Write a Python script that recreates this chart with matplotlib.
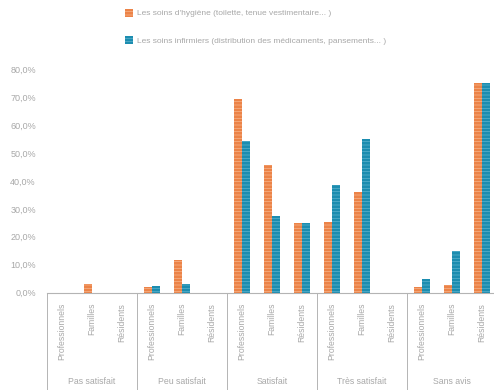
import matplotlib
matplotlib.use("Agg")
import matplotlib.pyplot as plt
import matplotlib.transforms as mtransforms
from matplotlib.patches import Patch
import numpy as np

plt.rcParams["font.family"] = ["Liberation Sans", "DejaVu Sans"]
plt.rcParams["hatch.linewidth"] = 0.5

# Satisfaction levels (outer groups) and respondent types (inner categories)
groups = ["Pas satisfait", "Peu satisfait", "Satisfait", "Très satisfait", "Sans avis"]
respondents = ["Professionnels", "Familles", "Résidents"]

series_names = [
    "Les soins d'hygiène (toilette, tenue vestimentaire... )",
    "Les soins infirmiers (distribution des médicaments, pansements... )",
]

# Percentages, ordered group by group, then respondent within the group
hygiene = [
    0.0, 3.1, 0.0,      # Pas satisfait
    2.1, 11.8, 0.0,     # Peu satisfait
    69.3, 45.6, 25.0,   # Satisfait
    25.3, 36.1, 0.0,    # Très satisfait
    2.1, 2.8, 75.0,     # Sans avis
]
infirmiers = [
    0.0, 0.0, 0.0,
    2.4, 3.1, 0.0,
    54.3, 27.3, 25.0,
    38.5, 54.8, 0.0,
    4.8, 14.9, 75.0,
]

y_ticks = [0, 10, 20, 30, 40, 50, 60, 70, 80]
y_tick_labels = ["0,0%", "10,0%", "20,0%", "30,0%", "40,0%", "50,0%", "60,0%", "70,0%", "80,0%"]

orange = "#EC8347"
teal = "#1C8DB0"
text_grey = "#A8A8A8"
line_grey = "#B4B4B4"

fig = plt.figure(figsize=(4.94, 3.90), dpi=100)
ax = fig.add_axes([47 / 494, 97.3 / 390, 450 / 494, 223.7 / 390])

n = len(hygiene)
x = np.arange(n) + 0.5
w = 0.28
ax.bar(x - w / 2, hygiene, width=w, color=orange, edgecolor="#F6B58E",
       linewidth=0, hatch="-----")
ax.bar(x + w / 2, infirmiers, width=w, color=teal, edgecolor="#5FB3CC",
       linewidth=0, hatch="-----")

ax.set_xlim(0, n)
ax.set_ylim(0, 80)
ax.set_yticks(y_ticks)
ax.set_yticklabels(y_tick_labels, fontsize=6.5, color=text_grey)
ax.tick_params(axis="y", length=0, pad=8)
ax.set_xticks([])

for side in ["left", "right", "top"]:
    ax.spines[side].set_visible(False)
ax.spines["bottom"].set_color(line_grey)
ax.spines["bottom"].set_linestyle((0, (1, 1)))
ax.spines["bottom"].set_linewidth(0.8)

trans = mtransforms.blended_transform_factory(ax.transData, ax.transAxes)

# Separators between satisfaction groups
for k in range(len(groups) + 1):
    ax.plot([3 * k, 3 * k], [0, -0.45], transform=trans, color=line_grey,
            linewidth=0.7, clip_on=False)

# Respondent labels, rotated under each pair of bars
for i in range(n):
    ax.text(x[i], -0.045, respondents[i % 3], transform=trans, rotation=90,
            ha="center", va="top", fontsize=6.2, color=text_grey)

# Satisfaction level labels
for g, name in enumerate(groups):
    ax.text(3 * g + 1.5, -0.395, name, transform=trans, ha="center",
            va="center", fontsize=6.3, color=text_grey)

handles = [Patch(facecolor=orange, edgecolor="#F6B58E", linewidth=0, hatch="-----"),
           Patch(facecolor=teal, edgecolor="#5FB3CC", linewidth=0, hatch="-----")]
leg = fig.legend(handles, series_names, loc="upper left",
                 bbox_to_anchor=(117 / 494, 1 - 1 / 390), frameon=False,
                 fontsize=6, handlelength=1.0, handleheight=1.1,
                 handletextpad=0.55, labelspacing=2.2)
for t in leg.get_texts():
    t.set_color(text_grey)

fig.savefig("out.png", dpi=100)
